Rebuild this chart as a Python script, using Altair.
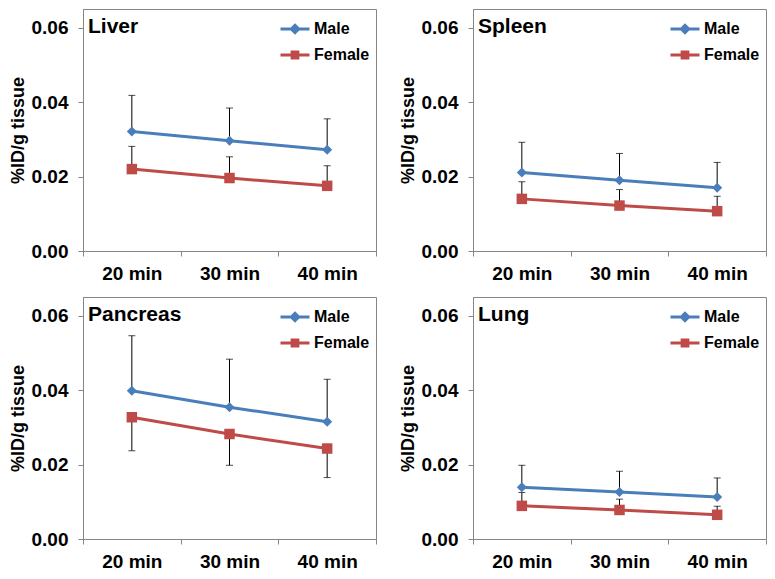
import altair as alt
import pandas as pd

times = ["20 min", "30 min", "40 min"]
organs = ["Liver", "Spleen", "Pancreas", "Lung"]
series_names = ["Male", "Female"]

male_mean = {
    "Liver": [0.0321, 0.0296, 0.0272],
    "Spleen": [0.0211, 0.0190, 0.0170],
    "Pancreas": [0.0398, 0.0354, 0.0315],
    "Lung": [0.0139, 0.0126, 0.0113],
}
male_sd = {
    "Liver": [0.0097, 0.0088, 0.0083],
    "Spleen": [0.0081, 0.0072, 0.0068],
    "Pancreas": [0.0148, 0.0129, 0.0114],
    "Lung": [0.0059, 0.0056, 0.0051],
}
female_mean = {
    "Liver": [0.0220, 0.0196, 0.0175],
    "Spleen": [0.0140, 0.0122, 0.0107],
    "Pancreas": [0.0327, 0.0282, 0.0243],
    "Lung": [0.0089, 0.0078, 0.0065],
}
female_sd = {
    "Liver": [0.0061, 0.0057, 0.0054],
    "Spleen": [0.0046, 0.0043, 0.0040],
    "Pancreas": [0.0090, 0.0084, 0.0078],
    "Lung": [0.0036, 0.0029, 0.0023],
}
# direction in which the female error bar is drawn (+1 up, -1 down)
female_err_dir = {"Liver": 1, "Spleen": 1, "Pancreas": -1, "Lung": 1}

rows = []
for organ in organs:
    for i, t in enumerate(times):
        m = male_mean[organ][i]
        rows.append(dict(organ=organ, time=t, series="Male", value=m,
                         err_end=m + male_sd[organ][i]))
        f = female_mean[organ][i]
        rows.append(dict(organ=organ, time=t, series="Female", value=f,
                         err_end=f + female_err_dir[organ] * female_sd[organ][i]))
df = pd.DataFrame(rows)

COLORS = ["#4A7EBB", "#BE4B48"]
GRAY = "#868686"
FONT = "Liberation Sans"
W, H = 293, 242
YTITLE = "%ID/g tissue"

# legend symbols: a line with the series marker in its middle
LEG_PATHS = [
    "M-1,0H1M0,-0.25L0.25,0L0,0.25L-0.25,0Z",
    "M-1,0H1M-0.2,-0.2H0.2V0.2H-0.2Z",
]


def panel(organ):
    d = df[df.organ == organ]
    base = alt.Chart(d)
    x = alt.X("time:N", sort=times,
              scale=alt.Scale(type="band", domain=times, paddingInner=0, paddingOuter=0),
              axis=alt.Axis(title=None, labelAngle=0, tickBand="extent",
                            labelFontSize=19, labelPadding=8))
    yaxis = alt.Axis(values=[0, 0.02, 0.04, 0.06], format=".2f", grid=False,
                     labelFontSize=19, labelPadding=10, titleFontSize=18, titlePadding=4)
    yscale = alt.Scale(domain=[0, 0.065], nice=False)
    y = alt.Y("value:Q", scale=yscale, axis=yaxis, title=YTITLE)

    rules = base.mark_rule(color="black", strokeWidth=1).encode(
        x=x, y=y, y2="err_end:Q")
    caps = base.mark_tick(color="black", thickness=1, size=7, orient="horizontal").encode(
        x=x, y=alt.Y("err_end:Q", scale=yscale, axis=yaxis, title=YTITLE))
    layers = [rules, caps]
    for s, c, shp, sz in zip(series_names, COLORS, ["diamond", "square"], [100, 110]):
        sub = base.transform_filter(alt.datum.series == s)
        layers.append(sub.mark_line(strokeWidth=3, color=c).encode(x=x, y=y))
        layers.append(sub.mark_point(shape=shp, filled=True, size=sz, opacity=1, color=c)
                      .encode(x=x, y=y))

    leg = alt.Legend(title=None, orient="none", legendX=W - 97, legendY=4,
                     labelFont=FONT, labelFontSize=16, labelFontWeight="bold",
                     labelColor="black", symbolSize=841, symbolStrokeWidth=3,
                     rowPadding=0, padding=0, labelOffset=3)
    cs = alt.Scale(domain=series_names, range=COLORS)
    ss = alt.Scale(domain=series_names, range=LEG_PATHS)
    legend_layer = base.mark_point(filled=True, opacity=1, size=0).encode(
        x=x, y=y,
        fill=alt.Fill("series:N", scale=cs, legend=leg),
        stroke=alt.Stroke("series:N", scale=cs, legend=leg),
        shape=alt.Shape("series:N", scale=ss, legend=leg),
    )
    layers.append(legend_layer)

    label = alt.Chart(pd.DataFrame({"organ": [organ]})).mark_text(
        align="left", baseline="alphabetic", font=FONT, fontSize=21, fontWeight="bold",
        color="black").encode(x=alt.value(5), y=alt.value(24), text="organ:N")
    layers.append(label)

    return alt.layer(*layers).properties(width=W, height=H)


chart = alt.concat(*[panel(o) for o in organs], columns=2,
                   spacing={"row": 12, "column": 21}).resolve_scale(
    fill="independent", stroke="independent", shape="independent",
    x="independent", y="independent",
).resolve_legend(
    fill="independent", stroke="independent", shape="independent",
).properties(padding=0, background="white").configure_view(
    stroke=GRAY, strokeWidth=1
).configure_axis(
    domainColor=GRAY, tickColor=GRAY, tickSize=5, labelFont=FONT, titleFont=FONT,
    labelFontWeight="bold", titleFontWeight="bold", labelColor="black", titleColor="black",
)

chart.save("out.html", embed_options={"renderer": "svg", "actions": False})
